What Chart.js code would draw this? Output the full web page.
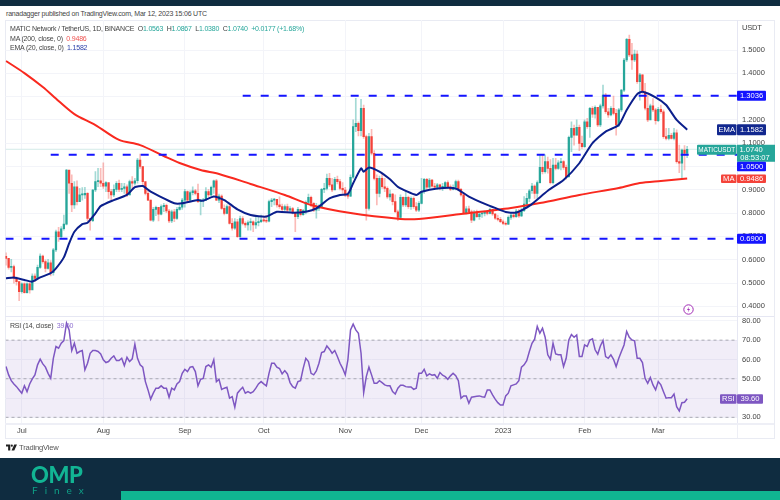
<!DOCTYPE html>
<html>
<head>
<meta charset="utf-8">
<script src="https://cdn.jsdelivr.net/npm/chart.js@4/dist/chart.umd.min.js"></script>
<style>
  body { margin: 0; background: #fff; width: 780px; height: 500px; overflow: hidden; position: relative; font-family: "Liberation Sans", sans-serif; }
  div, canvas, svg { position: absolute; }
  .txt { white-space: nowrap; font-size: 7px; color: #444; line-height: 9px; letter-spacing: -0.2px; }
  .up { color: #26a69a; position: static; display: inline; }
  #topbar { left: 0; top: 0; width: 780px; height: 6px; background: #0f2c40; }
  #frame { left: 5px; top: 20px; width: 768px; height: 417px; border: 1px solid #e9ebf3; }
  #sep1 { left: 5px; top: 316px; width: 769px; height: 1px; background: #e6e7f3; }
  #sep2 { left: 5px; top: 423px; width: 769px; height: 2px; background: #eeeff6; }
  #sep3 { left: 737px; top: 423px; width: 1px; height: 15px; background: #eeeff6; }
  #footer { left: 0; top: 458px; width: 780px; height: 42px; background: #0f2c40; }
  #greenbar { left: 121px; top: 491px; width: 659px; height: 9px; background: #10b591; }
  #omp { left: 31px; top: 462px; font: 900 22px/26px Lato, sans-serif; color: #12b594; letter-spacing: -0.4px; }
  #finex { left: 32px; top: 484px; font: 400 10px/12px Lato, sans-serif; color: #0f9f86; letter-spacing: 7px; }
</style>
</head>
<body>
<div id="topbar"></div>
<div class="txt" style="left:6px;top:9px;">ranadagger published on TradingView.com, Mar 12, 2023 15:06 UTC</div>
<div id="frame"></div>
<canvas id="mainChart" width="780" height="296" style="left:0;top:20px;"></canvas>
<canvas id="rsiChart" width="780" height="121" style="left:0;top:317px;"></canvas>
<div id="sep1"></div>
<div id="sep2"></div>
<div id="sep3"></div>
<div class="txt" style="left:10px;top:24px;">MATIC Network / TetherUS, 1D, BINANCE &nbsp;O<span class="up">1.0563</span> &nbsp;H<span class="up">1.0867</span> &nbsp;L<span class="up">1.0380</span> &nbsp;C<span class="up">1.0740</span> &nbsp;<span class="up">+0.0177 (+1.68%)</span></div>
<div class="txt" style="left:10px;top:34px;">MA (200, close, 0) &nbsp;<span style="color:#ef5350">0.9486</span></div>
<div class="txt" style="left:10px;top:43px;">EMA (20, close, 0) &nbsp;<span style="color:#2a3fa8">1.1582</span></div>
<div class="txt" style="left:10px;top:321px;">RSI (14, close) &nbsp;<span style="color:#8e6fd0">39.60</span></div>
<div class="txt" style="left:742px;top:23px;font-size:7.5px;">USDT</div>
<svg style="left:683px;top:304px;" width="11" height="11" viewBox="0 0 11 11"><circle cx="5.5" cy="5.5" r="4.7" fill="#fff" stroke="#a02bb5" stroke-width="1"/><path d="M6.2 2.5 L4 6 L5.6 6 L4.8 8.5 L7 5 L5.4 5 Z" fill="#a02bb5"/></svg>
<svg style="left:6px;top:444px;" width="11" height="7" viewBox="0 0 36 20"><path d="M0 0 H14 V20 H7 V7 H0 Z" fill="#222"/><circle cx="19" cy="4" r="3.6" fill="#222"/><path d="M27 0 H36 L27 20 H18 Z" fill="#222"/></svg>
<div class="txt" style="left:19px;top:443px;font-size:7.6px;color:#555;">TradingView</div>
<div id="footer"></div>
<div id="greenbar"></div>
<div id="omp">OMP</div>
<div id="finex">Finex</div>

<script>
// candles: one entry per day, open is the previous close
const closes = [
  .606,.567,.570,.520,.506,.463,.496,.459,.496,.470,.530,.520,.567,.616,.592,.563,.587,.544,.642,.720,
  .699,.733,.753,.985,.928,.835,.913,.849,.878,.878,.885,.777,.768,.899,.935,.939,.928,.916,.931,.892,
  .878,.902,.928,.902,.906,.913,.878,.935,.928,.939,1.028,1.0,.935,
  .885,.856,.770,.816,.825,.795,.828,.833,.809,.766,.806,.777,.816,.825,.856,.892,.856,.888,.896,.885,
  .849,.853,.856,.892,.878,.911,.939,.856,.873,.820,.799,.828,.756,.735,.763,.699,.777,.756,.749,.759,
  .763,.749,.759,.763,.770,.767,.765,.849,.856,.859,.835,.828,
  .816,.828,.813,.819,.802,.785,.816,.793,.811,.846,.868,.842,.813,.820,.825,.902,.906,.949,.921,.899,
  .945,.935,.906,.899,.878,.873,.954,1.171,1.185,1.154,1.250,1.128,.820,1.128,1.057,.949,.885,.949,.913,.906,
  .870,.882,.849,.806,.782,.868,.835,.868,.828,.863,.828,.813,.842,
  .892,.945,.911,.942,.916,.911,.921,.911,.911,.931,.913,.902,.911,.935,.902,.878,.799,.818,.806,.770,
  .802,.785,.796,.799,.802,.799,.816,.796,.778,.773,.763,.756,.752,.782,.792,.785,.809,.788,.811,.839,
  .863,.896,.916,.885,.931,.996,.978,1.021,.992,.931,1.006,
  .992,1.016,1.021,.996,.956,1.125,1.164,1.135,1.168,1.099,1.085,1.192,1.171,1.25,1.225,1.254,1.178,1.26,1.307,1.235,
  1.221,1.25,1.228,1.178,1.243,1.328,1.457,1.546,1.479,1.457,1.483,1.364,1.393,1.321,1.25,1.2,1.26,1.243,1.197,1.245,
  1.235,1.128,1.121,1.134,1.121,1.145,1.021,1.014,1.07,1.0563,1.074
];
const highs = [
  .630,.606,.602,.577,.527,.506,.501,.501,.501,.501,.539,.539,.577,.625,.620,.599,.602,.596,.649,.727,
  .739,.742,.792,.988,.982,.964,.935,.939,.906,.910,.911,.888,.778,.902,.978,.992,.992,1.016,.935,.928,
  .902,.921,.935,.942,.928,.928,.921,.942,.957,.949,1.035,1.053,1.0,
  .928,.899,.856,.825,.830,.825,.835,.842,.839,.816,.813,.816,.825,.842,.863,.902,.896,.896,.913,.902,
  .925,.859,.863,.910,.902,.916,.942,.945,.882,.878,.835,.835,.835,.777,.777,.773,.787,.785,.763,.767,
  .777,.767,.785,.787,.792,.785,.790,.856,.863,.863,.859,.870,
  .839,.835,.839,.828,.825,.799,.825,.813,.816,.853,.882,.873,.845,.842,.835,.906,.928,.968,.971,.949,
  .954,.959,.945,.931,.911,.888,.964,1.2,1.293,1.192,1.288,1.264,1.135,1.142,1.160,1.068,.964,.959,.968,.949,
  .913,.899,.885,.878,.813,.878,.870,.892,.873,.870,.870,.845,.849,
  .949,.949,.949,.949,.945,.928,.928,.925,.928,.935,.939,.921,.921,.942,.942,.906,.885,.828,.830,.813,
  .811,.813,.806,.806,.809,.809,.822,.816,.799,.792,.782,.770,.763,.788,.799,.799,.816,.816,.820,.871,
  .885,.902,.928,.921,.939,1.05,1.05,1.05,1.04,1.03,1.035,
  1.035,1.025,1.035,1.025,1.006,1.131,1.192,1.178,1.2,1.178,1.131,1.2,1.207,1.254,1.257,1.26,1.245,1.268,1.35,1.314,
  1.25,1.257,1.302,1.245,1.25,1.331,1.464,1.55,1.564,1.529,1.5,1.497,1.4,1.393,1.357,1.307,1.268,1.292,1.25,1.254,
  1.264,1.243,1.164,1.164,1.142,1.164,1.157,1.092,1.075,1.09,1.0867
];
const lows = [
  .577,.559,.548,.499,.491,.424,.456,.456,.456,.456,.487,.506,.520,.563,.585,.548,.559,.530,.534,.635,
  .678,.695,.727,.749,.885,.806,.820,.835,.849,.856,.863,.768,.727,.763,.892,.913,.913,.906,.892,.863,
  .856,.871,.892,.892,.892,.885,.871,.878,.906,.920,.928,.992,.92,
  .878,.853,.767,.763,.789,.767,.792,.806,.802,.759,.759,.763,.773,.813,.816,.825,.849,.853,.878,.878,
  .845,.792,.828,.853,.871,.873,.885,.853,.845,.816,.792,.796,.753,.727,.730,.696,.696,.749,.739,.727,
  .727,.720,.734,.745,.759,.762,.759,.762,.828,.835,.825,.82,
  .810,.810,.806,.802,.796,.720,.776,.787,.790,.796,.842,.828,.806,.778,.81,.825,.888,.899,.913,.892,
  .902,.925,.899,.885,.871,.863,.871,.949,1.15,1.131,1.131,1.121,.770,.813,1.05,.942,.835,.870,.906,.892,
  .863,.856,.835,.802,.768,.778,.828,.828,.820,.816,.820,.806,.806,
  .839,.885,.899,.906,.911,.906,.902,.899,.896,.906,.906,.896,.899,.899,.896,.873,.796,.796,.799,.759,
  .767,.782,.773,.782,.788,.792,.796,.790,.773,.767,.759,.750,.748,.750,.773,.779,.782,.782,.785,.806,
  .835,.849,.885,.863,.863,.928,.968,.971,.971,.925,.925,
  .985,.988,.985,.988,.946,.953,1.064,1.092,1.135,1.068,1.078,1.082,1.164,1.125,1.211,1.207,1.171,1.171,1.25,1.228,
  1.211,1.217,1.221,1.135,1.171,1.235,1.321,1.45,1.471,1.417,1.45,1.357,1.285,1.314,1.243,1.192,1.243,1.235,1.182,1.192,
  1.228,1.121,1.114,1.114,1.117,1.114,1.014,.974,.949,.985,1.038
];

// moving averages, read at the days listed
const maDays = [0,7,14,20,26,34,43,51,60,66,74,81,93,106,116,131,150,157,173,192,203,218,233,241,249,259];
const maValues = [1.453,1.401,1.341,1.281,1.225,1.178,1.114,1.092,1.045,1.015,.985,.968,.925,.878,.835,.800,.775,.775,.796,.822,.843,.878,.908,.929,.938,.9486];
const emaDays = [0,3,7,10,13,17,19,22,24,26,29,31,34,36,41,46,49,52,55,60,64,67,73,75,79,83,88,93,99,103,109,114,118,123,127,130,132,135,136,138,142,146,149,156,158,164,171,176,183,188,190,194,199,206,212,218,223,228,233,236,240,242,247,251,255,259];
const emaValues = [.520,.524,.513,.506,.524,.542,.563,.610,.670,.720,.753,.759,.799,.830,.856,.878,.911,.916,.892,.863,.842,.842,.856,.853,.871,.856,.816,.792,.785,.806,.802,.806,.820,.863,.878,.882,.928,.992,.978,.996,.978,.945,.913,.878,.892,.906,.906,.871,.835,.813,.805,.802,.831,.896,.942,1.014,1.1,1.15,1.178,1.243,1.311,1.321,1.297,1.264,1.2,1.1582];

// horizontal levels drawn by the author
const levelHigh = 1.3036;
const levelMid = 1.05;
const levelLow = 0.69;
const levelMidStart = 17;
const levelHighStart = 90;
const lastPrice = 1.074;

const rsiValues = [
  56.3,52,49,47.3,45.9,44.2,42.5,46.4,43.3,47.3,49.9,52,57.2,60.1,57.7,56,52.8,50.2,60.6,66.7,
  65.8,68.4,69.8,78.8,75.3,64.6,68.4,63.2,64.1,64.6,54.6,58,63.2,64.6,64.6,64.1,62.9,59.8,58.4,58.9,
  60.6,61.8,59.4,59.4,60.6,56.8,61.1,58.9,60.3,67.9,60.6,57.2,56,48.5,44.2,39.4,42.5,45.1,45.1,46.3,
  45.1,45.1,40.4,45.1,44.2,47.3,48.5,52.8,54.9,53.7,56,56.3,53.7,46.3,49.7,50.2,56.3,57.2,56,59.8,
  48.5,49.7,44.5,45.1,45.6,39.9,40.7,35.2,42.5,44.2,45.6,42.5,43.3,42.5,43.3,45.1,47.3,48.5,47.3,46.3,
  52.8,58,58,56,55.3,52.5,54.2,52.5,48,45.9,45.1,48.5,49,55.4,60.6,58.9,52.8,52,54,58,
  63.6,64.1,67,65.3,63.2,64.6,61.5,58,55.4,52,59.8,75.3,78.3,75.3,73.6,63.2,42.8,51.1,56,52,
  47.6,47.6,49,48,46.8,46.3,46.3,43.3,42.1,45.1,46.6,46.6,45.9,45.7,45.7,44.5,45.1,52.8,52.8,54.9,
  51.5,52.5,51.8,52.1,50.2,53.2,51.8,51.1,49.7,51.5,52.8,51.6,49,39.9,41.1,41.1,37.3,40.4,40.7,40.9,
  41.1,40.7,40.4,44.2,44.2,41.6,39.4,37.6,36.4,36.4,41.1,42.5,46.3,46.8,47.3,49,56,57.2,59.4,64.1,
  68.4,70.5,77.1,73.6,76.2,71.5,62.4,60.1,68.4,62.9,62.4,62.4,56.3,60.6,70.1,72.9,71.5,72.7,61.5,61.5,
  67.5,66.7,70.1,70.7,65,62.7,67,69.8,61.5,60.6,62.4,60.1,56.3,60.6,64.1,67.5,74.5,71.5,70.1,69.6,
  60.6,60.6,58.4,50.2,47.6,50.6,46.8,44.2,48.5,46.8,43.3,39.9,40.2,40.2,42.1,35.5,33.3,37.6,37.8,39.6
];
const rsiTicks = [30,40,50,60,70,80];
const rsiGuides = [30,50,70];

const priceTicks = [.4,.5,.6,.7,.8,.9,1.0,1.1,1.2,1.3,1.4,1.5];
const monthDays = [6,37,68,98,129,158,189,220,248];
const monthNames = ["Jul","Aug","Sep","Oct","Nov","Dec","2023","Feb","Mar"];

// view range of the axes
const xMin = -0.19;
const xMax = 277.95;
const priceMin = 0.3584;
const priceMax = 1.6288;
const rsiMin = 27.05;
const rsiMax = 82;

const TEAL = "#26a69a";
const RED = "#f4433a";
const TEAL_WICK = "rgba(38,166,154,0.42)";
const RED_WICK = "rgba(244,67,58,0.36)";
const GRID = "#f3f4f9";
const AXIS_W = 43;
const FONT = "'Liberation Sans', sans-serif";

const opens = closes.map((c, i) => (i ? closes[i - 1] : 0.615));
const isUp = closes.map((c, i) => c >= opens[i]);

function pairs(xs, ys) {
  return xs.map((x, i) => ({ x: x, y: ys[i] }));
}

function hline(value, from) {
  return [{ x: from, y: value }, { x: xMax, y: value }];
}

// fixed axis sizes so that both panes line up
function fitY(s) { s.width = AXIS_W; s.paddingTop = 0; s.paddingBottom = 0; }
function fitX(h) {
  return function (s) { s.height = h; s.paddingLeft = 0; s.paddingRight = 0; };
}
function monthTicks(s) { s.ticks = monthDays.map(v => ({ value: v })); }

function drawTag(ctx, text, x, y, w, h, bg) {
  ctx.fillStyle = bg;
  ctx.beginPath();
  ctx.roundRect(x, y, w, h, 1);
  ctx.fill();
  ctx.fillStyle = "#fff";
  ctx.textAlign = "center";
  ctx.textBaseline = "middle";
  ctx.fillText(text, x + w / 2, y + h / 2 + 0.3);
}

const priceTagsPlugin = {
  id: "priceTags",
  afterDraw(chart) {
    const ctx = chart.ctx;
    const y = chart.scales.y;
    const BLUE = "#1414ff", NAVY = "#12288f", MA_RED = "#f4433a";
    ctx.save();
    ctx.font = "7.6px " + FONT;
    drawTag(ctx, levelHigh.toFixed(4), 737, y.getPixelForValue(levelHigh) - 5, 29, 10, BLUE);
    drawTag(ctx, levelLow.toFixed(4), 737, y.getPixelForValue(levelLow) - 5, 29, 10, BLUE);
    const emaLast = emaValues[emaValues.length - 1];
    const emaY = y.getPixelForValue(emaLast) - 5.5;
    drawTag(ctx, "EMA", 717, emaY, 19.5, 11, NAVY);
    drawTag(ctx, emaLast.toFixed(4), 737, emaY, 29, 11, NAVY);
    const lastY = y.getPixelForValue(lastPrice) - 4.5;
    ctx.font = "6.4px " + FONT;
    drawTag(ctx, "MATICUSDT", 697, lastY, 39.5, 10, TEAL);
    ctx.font = "7.6px " + FONT;
    ctx.fillStyle = TEAL;
    ctx.fillRect(737, lastY, 38, 17);
    ctx.fillStyle = "#fff";
    ctx.textAlign = "center";
    ctx.fillText(lastPrice.toFixed(4), 751, lastY + 5);
    ctx.fillText("08:53:07", 755, lastY + 13);
    drawTag(ctx, levelMid.toFixed(4), 737, lastY + 17, 29, 9.5, BLUE);
    const maLast = maValues[maValues.length - 1];
    const maY = y.getPixelForValue(maLast) - 4;
    drawTag(ctx, "MA", 721, maY, 15.5, 8.5, MA_RED);
    drawTag(ctx, maLast.toFixed(4), 737, maY, 29, 8.5, MA_RED);
    ctx.restore();
  }
};

const rsiTagPlugin = {
  id: "rsiTag",
  afterDraw(chart) {
    const ctx = chart.ctx;
    const last = rsiValues[rsiValues.length - 1];
    const y = chart.scales.y.getPixelForValue(last) - 4.5;
    ctx.save();
    ctx.font = "7.6px " + FONT;
    drawTag(ctx, "RSI", 720, y, 16.5, 9.5, "#7e57c2");
    drawTag(ctx, last.toFixed(2), 737, y, 26, 9.5, "#7e57c2");
    ctx.restore();
  }
};

const noExtras = { legend: { display: false }, tooltip: { enabled: false } };

new Chart(document.getElementById("mainChart"), {
  type: "bar",
  data: {
    datasets: [
      { type: "line", data: hline(lastPrice, xMin), borderColor: "#d3ebe8", borderWidth: 1, pointRadius: 0, order: 6 },
      {
        data: closes.map((c, i) => ({ x: i, y: [lows[i], highs[i]] })),
        backgroundColor: isUp.map(u => (u ? TEAL_WICK : RED_WICK)),
        barThickness: 1, grouped: false, order: 5
      },
      {
        data: closes.map((c, i) => ({ x: i, y: [opens[i], c] })),
        backgroundColor: isUp.map(u => (u ? TEAL : RED)),
        barThickness: 1.6, grouped: false, minBarLength: 1, order: 4
      },
      { type: "line", data: pairs(maDays, maValues), borderColor: "#f9291f", borderWidth: 2, pointRadius: 0, tension: 0.3, order: 3 },
      { type: "line", data: pairs(emaDays, emaValues), borderColor: "#0b1f8c", borderWidth: 2, pointRadius: 0, tension: 0.2, order: 2 },
      { type: "line", data: hline(levelHigh, levelHighStart), borderColor: "#1414ff", borderWidth: 2, borderDash: [8, 10], pointRadius: 0, order: 1 },
      { type: "line", data: hline(levelMid, levelMidStart), borderColor: "#1414ff", borderWidth: 2, borderDash: [8, 10], pointRadius: 0, order: 1 },
      { type: "line", data: hline(levelLow, xMin), borderColor: "#1414ff", borderWidth: 2, borderDash: [8, 10], pointRadius: 0, order: 1 }
    ]
  },
  options: {
    responsive: false,
    animation: false,
    layout: { padding: { left: 5.5, right: 0, top: 0, bottom: 0 } },
    plugins: noExtras,
    scales: {
      x: {
        type: "linear", min: xMin, max: xMax, offset: false,
        grid: { color: GRID, offset: false, drawTicks: false },
        border: { display: false },
        ticks: { display: false },
        afterBuildTicks: monthTicks,
        afterFit: fitX(0)
      },
      y: {
        position: "right", min: priceMin, max: priceMax,
        grid: { color: GRID, drawTicks: false },
        border: { color: "#e6e7f3" },
        ticks: {
          padding: 5, color: "#444", autoSkip: false,
          font: { size: 7.5, family: FONT },
          callback: v => v.toFixed(4)
        },
        afterBuildTicks: s => { s.ticks = priceTicks.map(v => ({ value: v })); },
        afterFit: fitY
      }
    }
  },
  plugins: [priceTagsPlugin]
});

const rsiGuideSets = rsiGuides.map(v => ({
  type: "line", data: hline(v, xMin), borderColor: "#a9a9b3", borderWidth: 1, borderDash: [3, 3], pointRadius: 0, order: 2
}));

new Chart(document.getElementById("rsiChart"), {
  type: "line",
  data: {
    datasets: [
      {
        data: hline(rsiGuides[2], xMin), borderWidth: 0, pointRadius: 0, order: 3,
        fill: { target: { value: rsiGuides[0] } }, backgroundColor: "rgba(126,87,194,0.11)"
      },
      ...rsiGuideSets,
      {
        data: rsiValues.map((v, i) => ({ x: i, y: v })),
        borderColor: "#7e57c2", borderWidth: 1.5, pointRadius: 0, order: 1
      }
    ]
  },
  options: {
    responsive: false,
    animation: false,
    layout: { padding: { left: 5.5, right: 0, top: 0, bottom: 0 } },
    plugins: noExtras,
    scales: {
      x: {
        type: "linear", min: xMin, max: xMax,
        grid: { color: GRID, drawTicks: false },
        border: { display: false },
        ticks: {
          padding: 3, color: "#444", autoSkip: false, maxRotation: 0,
          font: { size: 7.5, family: FONT },
          callback: v => monthNames[monthDays.indexOf(v)]
        },
        afterBuildTicks: monthTicks,
        afterFit: fitX(15)
      },
      y: {
        position: "right", min: rsiMin, max: rsiMax,
        grid: { color: GRID, drawTicks: false },
        border: { color: "#e6e7f3" },
        ticks: {
          padding: 5, color: "#444", autoSkip: false,
          font: { size: 7.5, family: FONT },
          callback: v => v.toFixed(2)
        },
        afterBuildTicks: s => { s.ticks = rsiTicks.map(v => ({ value: v })); },
        afterFit: fitY
      }
    }
  },
  plugins: [rsiTagPlugin]
});
</script>
</body>
</html>
